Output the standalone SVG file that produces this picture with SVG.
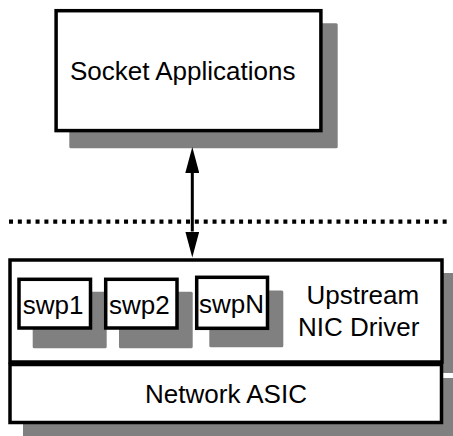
<svg xmlns="http://www.w3.org/2000/svg" width="453" height="436" viewBox="0 0 453 436">
<style>
.box{fill:#fff;stroke:#000;stroke-width:3.5}
.shadow{fill:#808080}
.lbl{font-family:"Liberation Sans",Arial,sans-serif;font-size:26px;fill:#000}
.conn{stroke:#000;stroke-width:3;fill:none}
</style>
<defs>
<marker id="ah" markerUnits="userSpaceOnUse" markerWidth="26" markerHeight="14" refX="0" refY="7" orient="auto-start-reverse" viewBox="0 0 26 14">
<path d="M0,0 L26,7 L0,14 z" fill="#000"/>
</marker>
</defs>
<g id="socket-applications">
<rect class="shadow" x="69.3" y="23.3" width="268.4" height="125" rx="1.5"/>
<rect class="box" x="56.1" y="10.7" width="264.8" height="119.9"/>
<text class="lbl" x="70" y="80">Socket Applications</text>
</g>
<g id="upstream-nic-driver">
<rect class="shadow" x="23" y="273" width="440" height="100" rx="1.5"/>
<rect class="box" x="10" y="260" width="432" height="102"/>
<text class="lbl" x="306.5" y="304.3">Upstream</text>
<text class="lbl" x="298" y="335.5">NIC Driver</text>
</g>
<g id="network-asic">
<rect class="shadow" x="23" y="378" width="440" height="70" rx="1.5"/>
<rect class="box" x="10" y="364.5" width="431.5" height="58"/>
<text class="lbl" x="226" y="403.3" text-anchor="middle">Network ASIC</text>
</g>
<g id="swp1">
<rect class="shadow" x="32.7" y="291.7" width="74" height="56.6" rx="1.5"/>
<rect class="box" x="19" y="279.3" width="71.5" height="48.7"/>
<text class="lbl" x="22.7" y="314.3">swp1</text>
</g>
<g id="swp2">
<rect class="shadow" x="119" y="291.7" width="73.7" height="56.6" rx="1.5"/>
<rect class="box" x="105.7" y="279.3" width="71.3" height="48.7"/>
<text class="lbl" x="109" y="314.3">swp2</text>
</g>
<g id="swpN">
<rect class="shadow" x="209.3" y="290.5" width="74" height="56.8" rx="1.5"/>
<rect class="box" x="196.7" y="277.3" width="70.8" height="51"/>
<text class="lbl" x="199" y="312.7">swpN</text>
</g>
<g id="connectors">
<line x1="9" y1="221.7" x2="447" y2="221.7" stroke="#000" stroke-width="4.2" stroke-dasharray="4 4.85"/>
<line class="conn" x1="192.3" y1="173" x2="192.3" y2="231.5" marker-start="url(#ah)" marker-end="url(#ah)"/>
</g>
</svg>
